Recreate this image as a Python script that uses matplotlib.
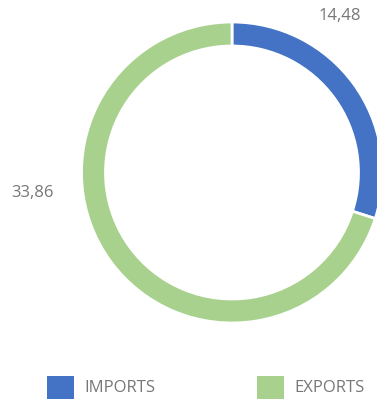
import matplotlib

matplotlib.use("Agg")
import matplotlib.pyplot as plt
from matplotlib.patches import Rectangle

plt.rcParams.update(
    {
        "font.family": ["Open Sans", "DejaVu Sans"],
        "font.size": 12,
        "text.color": "#777777",
        "figure.facecolor": "white",
        "savefig.facecolor": "white",
    }
)

categories = ["IMPORTS", "EXPORTS"]
values = [14.48, 33.86]
value_labels = ["14,48", "33,86"]
colors = ["#4472C4", "#A9D18E"]

W, H = 377, 401
fig = plt.figure(figsize=(W / 100, H / 100), dpi=100)
ax = fig.add_axes([0, 0, 1, 1])

# pixel-like coordinates, y pointing up
cx, cy, r = 232, H - 172.5, 150.5
wedges, _ = ax.pie(
    values,
    colors=colors,
    startangle=90,
    counterclock=False,
    center=(cx, cy),
    radius=r,
    wedgeprops=dict(width=24, edgecolor="white", linewidth=2),
)
ax.set_xlim(0, W)
ax.set_ylim(0, H)
ax.set_aspect("equal")
ax.axis("off")

# value labels outside the ring
ax.text(340, H - 16, value_labels[0], ha="center", va="center")
ax.text(33, H - 193, value_labels[1], ha="center", va="center")

# legend row: coloured square + category name
legend_x = [47, 257]
for x0, name, col in zip(legend_x, categories, colors):
    ax.add_patch(Rectangle((x0, H - 399), 27, 23, color=col, lw=0))
    ax.text(x0 + 37, H - 388.5, name, ha="left", va="center")

fig.savefig("out.png", dpi=100)
